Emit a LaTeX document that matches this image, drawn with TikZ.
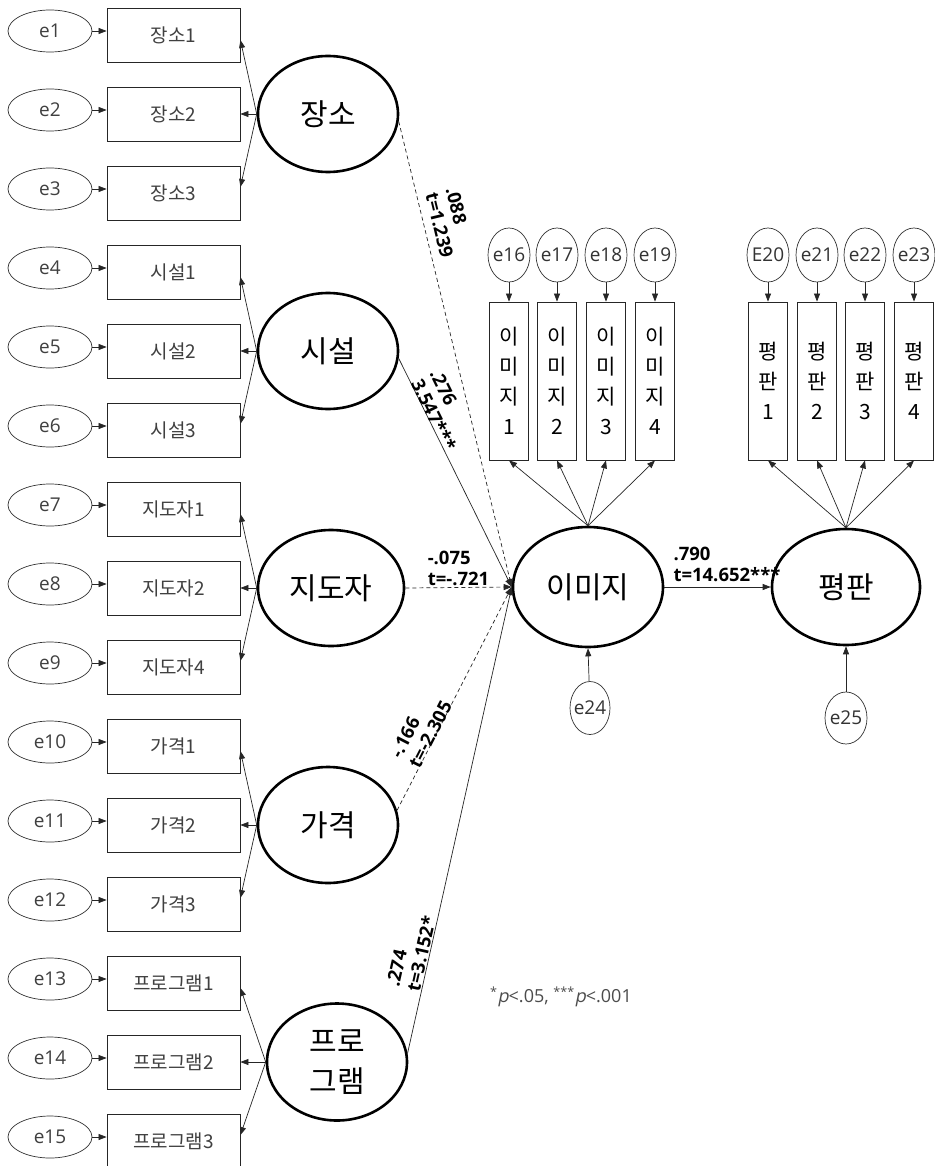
\documentclass[tikz,border=0pt]{standalone}
\usepackage{fontspec}
\setmainfont{Noto Sans CJK KR}
\newfontfamily\latf{Open Sans}
\newfontfamily\slf[FakeSlant=0.2]{Open Sans}
\usetikzlibrary{shapes.geometric,arrows.meta,calc}
\tikzset{
  errE/.style={ellipse, draw=black!80, line width=0.7pt, minimum width=84pt, minimum height=42pt, inner sep=0pt, font=\latf\fontsize{19}{19}\selectfont, text=black!75},
  indbox/.style={rectangle, draw=black!85, line width=0.8pt, minimum width=133pt, minimum height=54pt, inner sep=0pt, font=\fontsize{19}{19}\selectfont, text=black!75},
  lat/.style={ellipse, draw, line width=2.6pt, inner sep=0pt, font=\fontsize{30}{40}\selectfont, align=center},
  vind/.style={rectangle, draw=black!85, line width=0.8pt, minimum width=39pt, minimum height=158pt, inner sep=0pt, align=center, font=\fontsize{21}{30}\selectfont},
  serr/.style={ellipse, draw=black!80, line width=0.7pt, minimum width=42pt, minimum height=54pt, inner sep=0pt, font=\latf\fontsize{19}{19}\selectfont, text=black!80},
  arr/.style={-{Triangle[length=8pt,width=6pt]}, line width=0.7pt, draw=black!85},
  dsh/.style={dash pattern=on 4pt off 3pt},
  lab/.style={font=\latf\bfseries\fontsize{18.5}{21}\selectfont, align=left, inner sep=1pt}
}
\begin{document}
\begin{tikzpicture}[x=1pt,y=-1pt]
\fill[white] (0,0) rectangle (934,1166);
\useasboundingbox (0,0) rectangle (934,1166);

% left column indicators
\foreach \i/\t in {1/장소1,2/장소2,3/장소3,4/시설1,5/시설2,6/시설3,7/지도자1,8/지도자2,9/지도자4,10/가격1,11/가격2,12/가격3,13/프로그램1,14/프로그램2,15/프로그램3}{
  \pgfmathsetmacro\yy{35+79*(\i-1)}
  \node[indbox] (b\i) at (173.5,\yy) {\t};
  \node[errE] (e\i) at (50,\yy-4) {\makebox[0pt]{e\i}};
  \draw[arr] (e\i.east) -- (e\i.east -| b\i.west);
}

% exogenous latents
\node[lat, minimum width=140pt, minimum height=116pt] (L1) at (328,114) {장소};
\node[lat, minimum width=140pt, minimum height=116pt] (L2) at (328,351) {시설};
\node[lat, minimum width=146pt, minimum height=116pt] (L3) at (331,588) {지도자};
\node[lat, minimum width=140pt, minimum height=116pt] (L4) at (328,825) {가격};
\node[lat, minimum width=140pt, minimum height=117pt] (L5) at (337,1062) {프로\\그램};

\foreach \L/\a/\b/\c in {L1/b1/b2/b3, L2/b4/b5/b6, L3/b7/b8/b9, L4/b10/b11/b12, L5/b13/b14/b15}{
  \draw[arr] (\L.west) -- ([yshift=-5pt]\a.east);
  \draw[arr] (\L.west) -- (\b.east);
  \draw[arr] (\L.west) -- ([yshift=6pt]\c.east);
}

% endogenous latents
\node[lat, minimum width=150pt, minimum height=120pt] (img) at (588,587) {이미지};
\node[lat, minimum width=148pt, minimum height=116pt] (rep) at (846,587) {평판};

% image indicators
\foreach \n/\x in {1/509,2/557,3/606,4/655}{
  \pgfmathtruncatemacro\k{15+\n}
  \node[vind] (i\n) at (\x,381) {이\\미\\지\\\n};
  \node[serr] (ei\n) at (\x,255) {\makebox[0pt]{e\k}};
  \draw[arr] (ei\n) -- (i\n);
  \draw[arr] (img.north) -- (i\n.south);
}
% reputation indicators
\foreach \n/\x/\t in {1/768/E20,2/817/e21,3/865/e22,4/914/e23}{
  \node[vind] (r\n) at (\x,381) {평\\판\\\n};
  \node[serr] (er\n) at (\x,255) {\makebox[0pt]{\t}};
  \draw[arr] (er\n) -- (r\n);
  \draw[arr] (rep.north) -- (r\n.south);
}

% disturbances
\node[serr, minimum width=40pt, minimum height=53pt] (e24) at (590,708) {\makebox[0pt]{e24}};
\node[serr, minimum width=42pt, minimum height=52pt] (e25) at (846,718) {\makebox[0pt]{e25}};
\draw[arr] (e24) -- (img.south);
\draw[arr] (e25) -- (rep.south);

% structural paths
\draw[arr,dsh] (L1.-6) -- node[lab,sloped,above,pos=0.23,yshift=7pt]{.088\\t=1.239} (img.west);
\draw[arr] (L2.-6) -- node[lab,sloped,above,pos=0.26,yshift=-2pt]{.276\\3.547***} (img.west);
\draw[arr,dsh] (L3.east) -- node[lab,above,pos=0.5]{-.075\\t=-.721} (img.west);
\draw[arr,dsh] (L4.12) -- node[lab,sloped,above,pos=0.33,yshift=-3pt]{-.166\\t=-2.305} (img.west);
\draw[arr] (L5.7) -- node[lab,sloped,above,pos=0.21]{.274\\t=3.152*} (img.west);

\draw[arr] (img.east) -- (rep.west);
\node[lab, anchor=south west] (lab790) at ([xshift=8pt,yshift=4pt]img.east) {.790\\t=14.652***};

% note
\node[font=\latf\fontsize{18}{18}\selectfont, text=black!70, inner sep=0pt] (note) at (561,997)
  {\textsuperscript{*}{\slf p}<.05, \textsuperscript{***}{\slf p}<.001};
\end{tikzpicture}
\end{document}
